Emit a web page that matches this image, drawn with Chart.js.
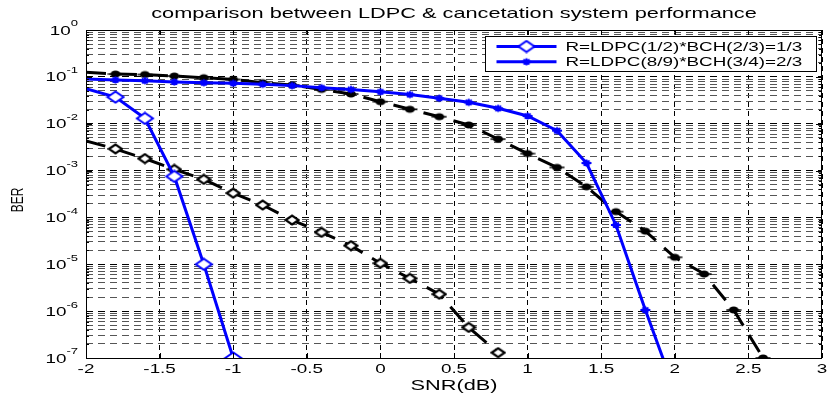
<!DOCTYPE html>
<html>
<head>
<meta charset="utf-8">
<script src="https://cdn.jsdelivr.net/npm/chart.js@4/dist/chart.umd.min.js"></script>
<style>
  html, body { margin: 0; padding: 0; background: #fff; }
</style>
</head>
<body>
<canvas id="ber" width="830" height="394"></canvas>
<script>
// --- data ---
const snrR13 = [-2, -1.8, -1.6, -1.4, -1.2, -1];
const berR13 = [0.056, 0.037, 0.013, 7.5e-4, 1e-5, 1e-7];

const snrR23 = [-2, -1.8, -1.6, -1.4, -1.2, -1, -0.8, -0.6, -0.4, -0.2, 0,
                0.2, 0.4, 0.6, 0.8, 1, 1.2, 1.4, 1.6, 1.8, 2];
const berR23 = [0.09, 0.086, 0.083, 0.078, 0.075, 0.073, 0.0695, 0.065, 0.0587, 0.054, 0.048,
                0.042, 0.035, 0.0286, 0.0213, 0.0146, 0.0071, 0.00145, 6.9e-5, 1.06e-6, 2e-8];

// black dashed curves (not in legend)
const snrRefA = [-2, -1.8, -1.6, -1.4, -1.2, -1, -0.8, -0.6, -0.4, -0.2, 0, 0.2, 0.4, 0.6, 0.8];
const berRefA = [0.0043, 0.0029, 0.0018, 0.00106, 6.5e-4, 3.3e-4, 1.84e-4, 8.8e-5, 4.8e-5,
                 2.5e-5, 1.05e-5, 5e-6, 2.3e-6, 4.5e-7, 1.3e-7];

const snrRefB = [-2, -1.8, -1.6, -1.4, -1.2, -1, -0.8, -0.6, -0.4, -0.2, 0, 0.2,
                 0.4, 0.6, 0.8, 1, 1.2, 1.4, 1.6, 1.8, 2, 2.2, 2.4, 2.6];
const berRefB = [0.125, 0.115, 0.112, 0.104, 0.096, 0.088, 0.075, 0.067, 0.054, 0.043, 0.0295, 0.0203,
                 0.0141, 0.0094, 0.0047, 0.0023, 0.00117, 4.5e-4, 1.33e-4, 5.1e-5, 1.41e-5, 6.2e-6, 1.06e-6, 1e-7];

const legendLabels = ['R=LDPC(1/2)*BCH(2/3)=1/3', 'R=LDPC(8/9)*BCH(3/4)=2/3'];
const xTicks = [-2, -1.5, -1, -0.5, 0, 0.5, 1, 1.5, 2, 2.5, 3];
const xTickLabels = ['-2', '-1.5', '-1', '-0.5', '0', '0.5', '1', '1.5', '2', '2.5', '3'];
const yDecades = [-7, -6, -5, -4, -3, -2, -1, 0];

const titleText = 'comparison between LDPC & cancetation system performance';
const xTitle = 'SNR(dB)';
const yTitle = 'BER';

// the original figure was stretched sideways, text too
const SX = 1.45;
const FONT = '"Liberation Sans", Arial, sans-serif';

function pts(xs, ys) {
  return xs.map((x, i) => ({ x: x, y: ys[i] }));
}

// grid values: 1..9 x 10^n for each decade
const yGrid = [];
yDecades.forEach(e => {
  if (e === 0) { yGrid.push(1); return; }
  for (let m = 1; m <= 9; m++) yGrid.push(+(m * Math.pow(10, e)).toPrecision(3));
});

function marker(w, h, draw) {
  const c = document.createElement('canvas');
  c.width = w; c.height = h;
  draw(c.getContext('2d'), w / 2, h / 2);
  return c;
}
function diamond(g, cx, cy, hw, hh) {
  g.beginPath();
  g.moveTo(cx - hw, cy); g.lineTo(cx, cy - hh);
  g.lineTo(cx + hw, cy); g.lineTo(cx, cy + hh);
  g.closePath();
}
const blueDiamond = marker(20, 14, (g, cx, cy) => {
  diamond(g, cx, cy, 8, 5.5);
  g.fillStyle = '#fff'; g.fill();
  g.strokeStyle = '#0000ff'; g.lineWidth = 2; g.stroke();
});
const blackDiamond = marker(16, 12, (g, cx, cy) => {
  diamond(g, cx, cy, 6.5, 4.5);
  g.fillStyle = '#fff'; g.fill();
  g.strokeStyle = '#000'; g.lineWidth = 2.2; g.stroke();
});
const blueStar = marker(14, 10, (g, cx, cy) => {
  g.strokeStyle = '#0000ff'; g.lineWidth = 2;
  g.beginPath();
  g.moveTo(cx - 5, cy); g.lineTo(cx + 5, cy);
  g.moveTo(cx, cy - 3.5); g.lineTo(cx, cy + 3.5);
  g.moveTo(cx - 3, cy - 2.5); g.lineTo(cx + 3, cy + 2.5);
  g.moveTo(cx - 3, cy + 2.5); g.lineTo(cx + 3, cy - 2.5);
  g.stroke();
});
const blackDot = marker(16, 10, (g, cx, cy) => {
  g.fillStyle = '#000';
  g.beginPath(); g.ellipse(cx, cy, 5, 3.6, 0, 0, Math.PI * 2); g.fill();
  g.strokeStyle = '#000'; g.lineWidth = 1.5;
  g.beginPath(); g.moveTo(cx - 7.5, cy); g.lineTo(cx + 7.5, cy); g.stroke();
});

const noFirst = c => (c.dataIndex === 0 ? 0 : 5);

function txt(ctx, s, x, y, size, align, base) {
  ctx.save();
  ctx.translate(x, y);
  ctx.scale(SX, 1);
  ctx.font = size + 'px ' + FONT;
  ctx.fillStyle = '#000';
  ctx.textAlign = align || 'center';
  ctx.textBaseline = base || 'middle';
  ctx.fillText(s, 0, 0);
  ctx.restore();
}
function txtWidth(ctx, s, size) {
  ctx.save();
  ctx.font = size + 'px ' + FONT;
  const w = ctx.measureText(s).width * SX;
  ctx.restore();
  return w;
}

const matlabLook = {
  id: 'matlabLook',
  afterDatasetsDraw(chart) {
    const ctx = chart.ctx, a = chart.chartArea;
    const xs = chart.scales.x, ys = chart.scales.y;
    ctx.save();
    ctx.strokeStyle = '#000';
    ctx.lineWidth = 1;
    // inner tick marks
    ctx.beginPath();
    xTicks.forEach(v => {
      const px = Math.round(xs.getPixelForValue(v)) + 0.5;
      ctx.moveTo(px, a.bottom); ctx.lineTo(px, a.bottom - 5);
      ctx.moveTo(px, a.top); ctx.lineTo(px, a.top + 5);
    });
    yGrid.forEach(v => {
      const py = Math.round(ys.getPixelForValue(v)) + 0.5;
      const len = Number.isInteger(Math.log10(v)) ? 6 : 3;
      ctx.moveTo(a.left, py); ctx.lineTo(a.left + len, py);
      ctx.moveTo(a.right, py); ctx.lineTo(a.right - len, py);
    });
    ctx.stroke();
    // axes box
    ctx.strokeRect(Math.round(a.left) + 0.5, Math.round(a.top) + 0.5,
                   Math.round(a.right - a.left) - 1, Math.round(a.bottom - a.top));

    // legend box (top right, inside axes)
    const lw = 331, lh = 35;
    const lx = Math.round(a.right - 6 - lw) + 0.5, ly = Math.round(a.top + 6) + 0.5;
    ctx.fillStyle = '#fff';
    ctx.fillRect(lx, ly, lw, lh);
    ctx.strokeRect(lx, ly, lw, lh);
    const entries = chart.data.datasets.filter(d => d.inLegend);
    entries.forEach((d, i) => {
      const ey = ly + 10 + i * 15.3;
      ctx.strokeStyle = d.borderColor;
      ctx.lineWidth = 3;
      ctx.beginPath(); ctx.moveTo(lx + 11, ey); ctx.lineTo(lx + 71, ey); ctx.stroke();
      ctx.drawImage(d.pointStyle, lx + 41 - d.pointStyle.width / 2, ey - d.pointStyle.height / 2);
      txt(ctx, d.label, lx + 80, ey + 0.5, 13, 'left');
    });
    ctx.restore();
  },
  afterDraw(chart) {
    const ctx = chart.ctx, a = chart.chartArea;
    const xs = chart.scales.x, ys = chart.scales.y;
    // title
    txt(ctx, titleText, (a.left + a.right) / 2, 14, 15);
    // x tick labels
    xTicks.forEach((v, i) => {
      txt(ctx, xTickLabels[i], xs.getPixelForValue(v), a.bottom + 11, 13);
    });
    // y tick labels as 10^n
    yDecades.forEach(e => {
      const py = ys.getPixelForValue(Math.pow(10, e));
      const ex = String(e);
      const we = txtWidth(ctx, ex, 9);
      const wb = txtWidth(ctx, '10', 13);
      const right = a.left - 8;
      txt(ctx, '10', right - we - wb, py + 1, 13, 'left');
      txt(ctx, ex, right - we, py - 6, 9, 'left');
    });
    // axis titles
    txt(ctx, xTitle, (a.left + a.right) / 2, a.bottom + 28, 15);
    ctx.save();
    ctx.translate(18, (a.top + a.bottom) / 2 + 6);
    ctx.scale(SX, 1);
    ctx.rotate(-Math.PI / 2);
    ctx.font = '12px ' + FONT;
    ctx.fillStyle = '#000';
    ctx.textAlign = 'center';
    ctx.textBaseline = 'middle';
    ctx.fillText(yTitle, 0, 0);
    ctx.restore();
  }
};

new Chart(document.getElementById('ber'), {
  type: 'line',
  data: {
    datasets: [
      { label: legendLabels[0], inLegend: true, data: pts(snrR13, berR13),
        borderColor: '#0000ff', borderWidth: 3, pointStyle: blueDiamond, pointRadius: noFirst },
      { label: legendLabels[1], inLegend: true, data: pts(snrR23, berR23),
        borderColor: '#0000ff', borderWidth: 3, pointStyle: blueStar, pointRadius: noFirst },
      { label: 'ref A', data: pts(snrRefA, berRefA), borderDash: [20, 11],
        borderColor: '#000', borderWidth: 3, pointStyle: blackDiamond, pointRadius: noFirst },
      { label: 'ref B', data: pts(snrRefB, berRefB), borderDash: [20, 11],
        borderColor: '#000', borderWidth: 3, pointStyle: blackDot, pointRadius: noFirst }
    ]
  },
  options: {
    responsive: false,
    animation: false,
    devicePixelRatio: 1,
    layout: { padding: { top: 30, right: 1, left: 0, bottom: 0 } },
    elements: { line: { tension: 0, fill: false } },
    plugins: { legend: { display: false }, title: { display: false }, tooltip: { enabled: false } },
    scales: {
      x: {
        type: 'linear', min: -2, max: 3,
        afterBuildTicks: s => { s.ticks = xTicks.map(v => ({ value: v })); },
        afterFit: s => { s.height = 36; },
        ticks: { display: false },
        grid: { color: '#000', lineWidth: 1, drawTicks: false },
        border: { display: false, dash: [5, 4] }
      },
      y: {
        type: 'logarithmic', min: 1e-7, max: 1,
        afterBuildTicks: s => { s.ticks = yGrid.map(v => ({ value: v })); },
        afterFit: s => { s.width = 86; },
        ticks: { display: false },
        grid: {
          color: c => (Number.isInteger(Math.log10(c.tick.value)) ? '#000' : '#555'),
          lineWidth: 1, drawTicks: false
        },
        border: { display: false, dash: [7, 5] }
      }
    }
  },
  plugins: [matlabLook]
});
</script>
</body>
</html>
